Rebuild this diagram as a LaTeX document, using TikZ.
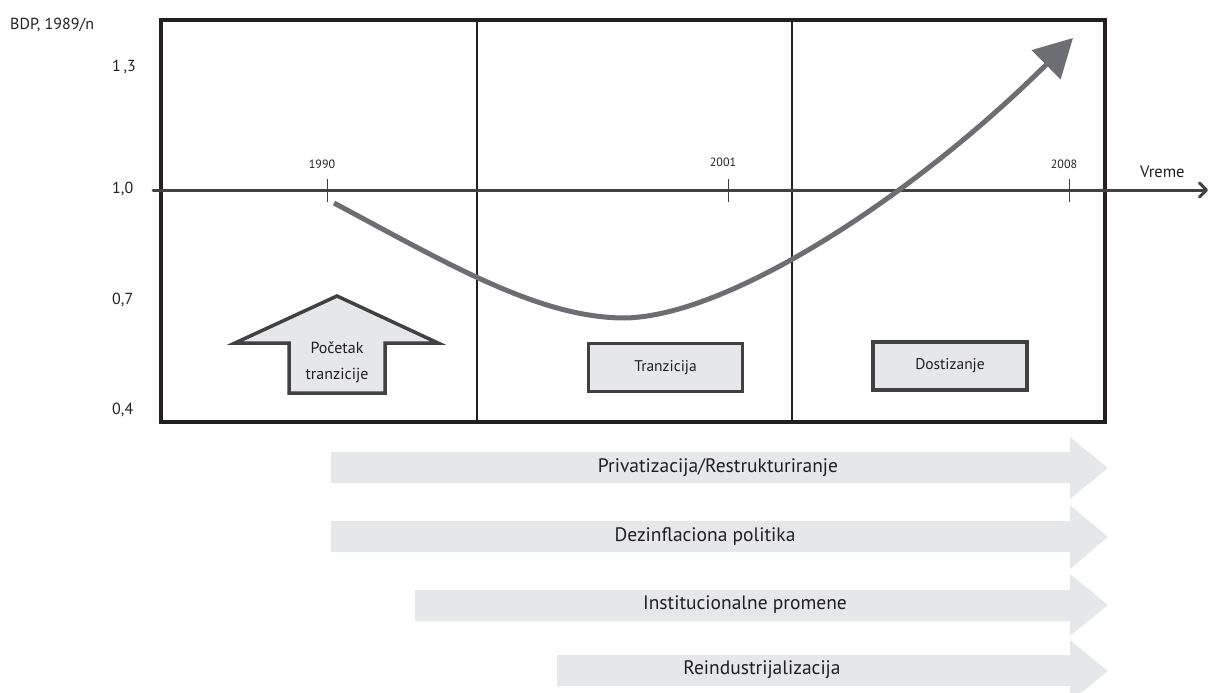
\documentclass[tikz,border=0pt]{standalone}
\usepackage{fontspec}
\setmainfont{PT Sans}
\usetikzlibrary{arrows.meta}
\definecolor{frameC}{HTML}{231F20}
\definecolor{axisC}{HTML}{414042}
\definecolor{curveC}{HTML}{6D6E71}
\definecolor{fillC}{HTML}{E6E7E8}
\definecolor{textC}{HTML}{231F20}
\tikzset{
  framebox/.style={draw=frameC,line width=4.5pt,line join=miter},
  divider/.style={draw=frameC,line width=1.3pt},
  axisline/.style={draw=axisC,line width=3pt,line cap=round,-{Straight Barb[length=7pt,width=14pt,line width=3pt,round]}},
  tickmark/.style={draw=axisC,line width=1pt},
  ticklabel/.style={text=textC,font=\fontsize{12}{13}\selectfont,inner sep=0pt},
  ylabel/.style={text=textC,font=\fontsize{16}{18}\selectfont,inner sep=0pt},
  curveline/.style={draw=curveC,line width=5pt,-{Triangle[length=38pt,width=40pt]}},
  phasebox/.style={draw=axisC,fill=fillC,line width=3.5pt,minimum width=154pt,minimum height=48pt,inner sep=0pt,text=textC,font=\fontsize{15.5}{17}\selectfont},
  uparrow/.style={draw=axisC,fill=fillC,line width=3.5pt,line join=miter},
  bandarrow/.style={fill=fillC},
  bandlabel/.style={text=textC,font=\fontsize{19.5}{21}\selectfont,inner sep=0pt},
}
\begin{document}
\begin{tikzpicture}[x=1pt,y=-1pt]
\useasboundingbox (0,0) rectangle (1211,693);
% band arrows
\fill[bandarrow] (331,452) -- (1070,452) -- (1070,437) -- (1108,468) -- (1070,499) -- (1070,483) -- (331,483) -- cycle;
\fill[bandarrow] (331,521) -- (1070,521) -- (1070,505) -- (1108,537) -- (1070,569) -- (1070,552) -- (331,552) -- cycle;
\fill[bandarrow] (415,590) -- (1070,590) -- (1070,574) -- (1108,605) -- (1070,636) -- (1070,621) -- (415,621) -- cycle;
\fill[bandarrow] (557,655) -- (1070,655) -- (1070,640) -- (1108,671) -- (1070,702) -- (1070,686) -- (557,686) -- cycle;
\node[bandlabel] (b1) at (718,468) {Privatizacija/Restrukturiranje};
\node[bandlabel] (b2) at (705,537) {Dezinflaciona politika};
\node[bandlabel] (b3) at (745,605) {Institucionalne promene};
\node[bandlabel] (b4) at (762,670) {Reindustrijalizacija};
% frame and dividers
\draw[divider] (477,20) -- (477,422);
\draw[divider] (792,20) -- (792,422);
\draw[framebox] (161,20) rectangle (1105,422);
% axis
\coordinate (ax0) at (153,190);
\coordinate (ax1) at (1208,190);
\draw[axisline] (ax0) -- (ax1);
\node[ticklabel,anchor=west] (vreme) at (1140,172) {\fontsize{16.5}{18}\selectfont Vreme};
\coordinate (t1a) at (327,179); \coordinate (t1b) at (327,202);
\coordinate (t2a) at (728,179); \coordinate (t2b) at (728,202);
\coordinate (t3a) at (1069,179); \coordinate (t3b) at (1069,202);
\draw[tickmark] (t1a) -- (t1b);
\draw[tickmark] (t2a) -- (t2b);
\draw[tickmark] (t3a) -- (t3b);
\node[ticklabel] (l1990) at (322,164) {1990};
\node[ticklabel] (l2001) at (723,162) {2001};
\node[ticklabel] (l2008) at (1064,164) {2008};
% y labels
\node[ylabel,anchor=west] (bdp) at (10,25) {BDP, 1989/n};
\node[ylabel,anchor=west] (y13) at (112,67) {1\,,3};
\node[ylabel,anchor=west] (y10) at (112,189) {1,0};
\node[ylabel,anchor=west] (y07) at (112,300) {0,7};
\node[ylabel,anchor=west] (y04) at (112,410) {0,4};
% curve
\coordinate (c0) at (334,203);
\coordinate (cmin) at (625,318);
\coordinate (c1) at (1073,38);
\draw[curveline] (c0) .. controls (450,265) and (540,318) .. (cmin) .. controls (730,316) and (915,195) .. (c1);
% phase markers
\draw[uparrow] (337,296) -- (438,343) -- (385,343) -- (385,393) -- (289,393) -- (289,343) -- (235,343) -- cycle;
\node[align=center,text=textC,font=\fontsize{16}{26}\selectfont,inner sep=0pt] (pocetak) at (337,362) {Početak\\tranzicije};
\node[phasebox] (tranz) at (665.5,367.5) {Tranzicija};
\node[phasebox] (dost) at (950,366) {Dostizanje};
\end{tikzpicture}
\end{document}
